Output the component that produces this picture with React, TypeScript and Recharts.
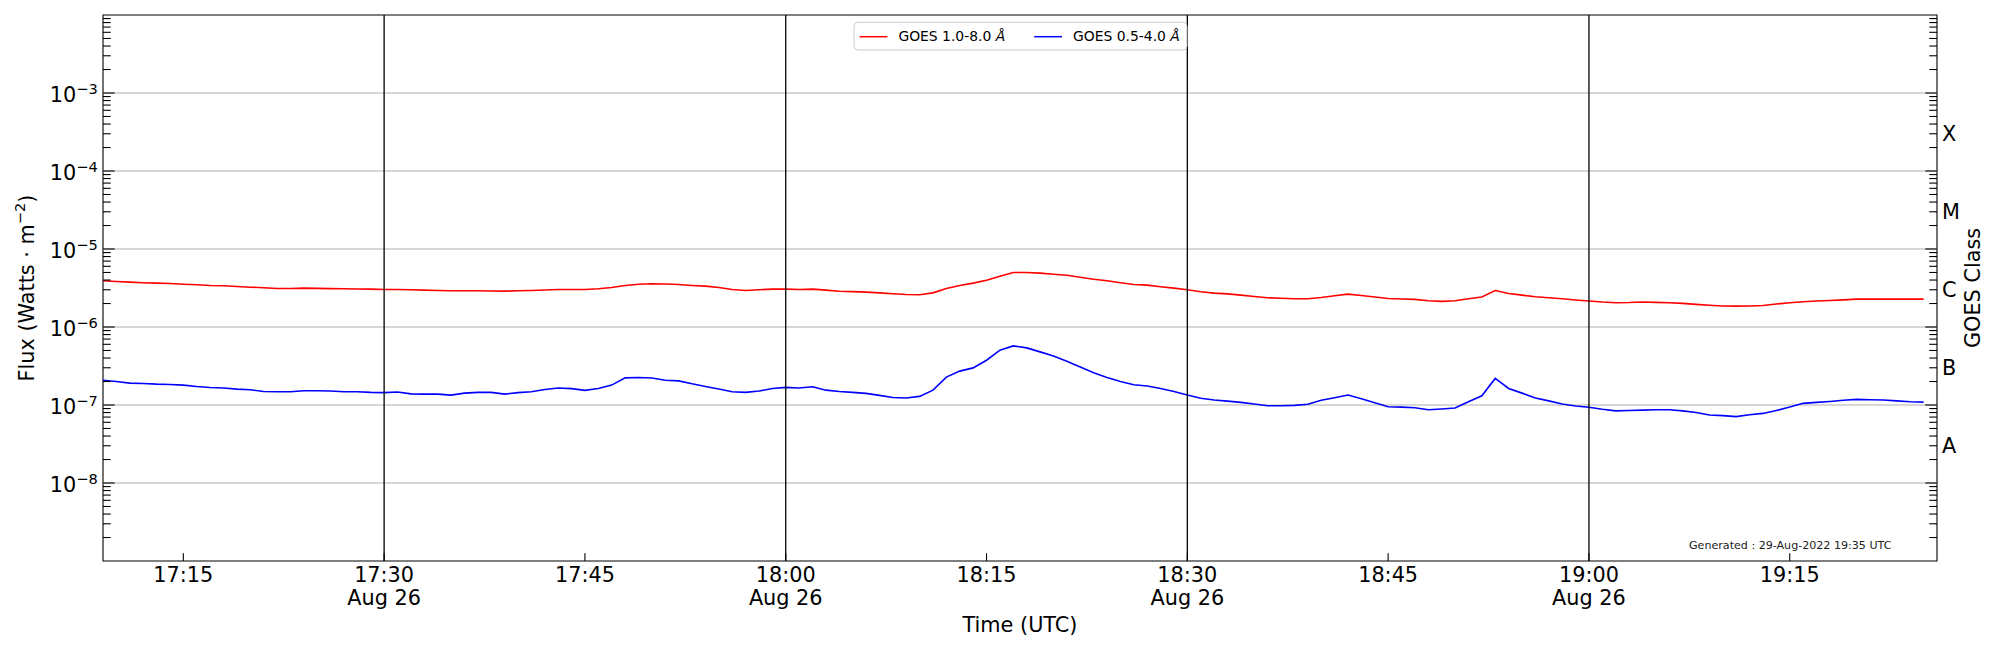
import React from "react";
import {
  LineChart,
  Line,
  XAxis,
  YAxis,
  ReferenceLine,
  ReferenceArea,
  Legend,
} from "recharts";

// GOES XRS one-minute fluxes, Aug 26 2022, starting 17:09 UTC
const startTime = "17:09";
const endTime = "19:26";

const xrsLong = [
  3.91e-6, 3.83e-6, 3.76e-6, 3.69e-6, 3.65e-6, 3.61e-6, 3.54e-6, 3.48e-6, 3.41e-6, 3.38e-6,
  3.31e-6, 3.24e-6, 3.19e-6, 3.12e-6, 3.12e-6, 3.15e-6, 3.13e-6, 3.1e-6, 3.09e-6, 3.07e-6,
  3.06e-6, 3.03e-6, 3.03e-6, 3.0e-6, 2.97e-6, 2.94e-6, 2.91e-6, 2.91e-6, 2.92e-6, 2.9e-6,
  2.88e-6, 2.91e-6, 2.94e-6, 2.98e-6, 3.03e-6, 3.03e-6, 3.03e-6, 3.09e-6, 3.21e-6, 3.41e-6,
  3.54e-6, 3.58e-6, 3.56e-6, 3.51e-6, 3.41e-6, 3.34e-6, 3.21e-6, 3.03e-6, 2.94e-6, 3.0e-6,
  3.06e-6, 3.06e-6, 3.03e-6, 3.06e-6, 2.97e-6, 2.87e-6, 2.84e-6, 2.8e-6, 2.74e-6, 2.67e-6,
  2.61e-6, 2.59e-6, 2.74e-6, 3.12e-6, 3.41e-6, 3.65e-6, 3.98e-6, 4.48e-6, 4.99e-6, 4.99e-6,
  4.9e-6, 4.75e-6, 4.61e-6, 4.35e-6, 4.1e-6, 3.91e-6, 3.69e-6, 3.51e-6, 3.44e-6, 3.28e-6,
  3.15e-6, 3.0e-6, 2.83e-6, 2.72e-6, 2.66e-6, 2.56e-6, 2.46e-6, 2.37e-6, 2.34e-6, 2.3e-6,
  2.3e-6, 2.39e-6, 2.51e-6, 2.64e-6, 2.54e-6, 2.42e-6, 2.32e-6, 2.29e-6, 2.26e-6, 2.17e-6,
  2.13e-6, 2.17e-6, 2.3e-6, 2.42e-6, 2.94e-6, 2.69e-6, 2.56e-6, 2.44e-6, 2.37e-6, 2.3e-6,
  2.22e-6, 2.15e-6, 2.09e-6, 2.05e-6, 2.06e-6, 2.09e-6, 2.07e-6, 2.05e-6, 2.01e-6, 1.95e-6,
  1.9e-6, 1.86e-6, 1.85e-6, 1.86e-6, 1.89e-6, 1.97e-6, 2.05e-6, 2.11e-6, 2.15e-6, 2.19e-6,
  2.23e-6, 2.28e-6, 2.28e-6, 2.28e-6, 2.28e-6, 2.28e-6, 2.28e-6,
];

const xrsShort = [
  2.08e-7, 2.0e-7, 1.91e-7, 1.89e-7, 1.85e-7, 1.83e-7, 1.8e-7, 1.73e-7, 1.68e-7, 1.65e-7,
  1.6e-7, 1.57e-7, 1.49e-7, 1.48e-7, 1.48e-7, 1.52e-7, 1.52e-7, 1.51e-7, 1.48e-7, 1.48e-7,
  1.45e-7, 1.44e-7, 1.47e-7, 1.39e-7, 1.38e-7, 1.38e-7, 1.34e-7, 1.42e-7, 1.45e-7, 1.45e-7,
  1.38e-7, 1.44e-7, 1.48e-7, 1.58e-7, 1.65e-7, 1.62e-7, 1.54e-7, 1.63e-7, 1.8e-7, 2.23e-7,
  2.25e-7, 2.22e-7, 2.08e-7, 2.04e-7, 1.87e-7, 1.73e-7, 1.6e-7, 1.48e-7, 1.45e-7, 1.51e-7,
  1.63e-7, 1.68e-7, 1.65e-7, 1.71e-7, 1.55e-7, 1.49e-7, 1.45e-7, 1.41e-7, 1.33e-7, 1.25e-7,
  1.23e-7, 1.29e-7, 1.55e-7, 2.28e-7, 2.72e-7, 2.99e-7, 3.75e-7, 5.04e-7, 5.72e-7, 5.4e-7,
  4.8e-7, 4.26e-7, 3.64e-7, 3.08e-7, 2.59e-7, 2.25e-7, 2.0e-7, 1.82e-7, 1.75e-7, 1.63e-7,
  1.49e-7, 1.34e-7, 1.22e-7, 1.16e-7, 1.12e-7, 1.08e-7, 1.03e-7, 9.8e-8, 9.8e-8, 9.9e-8,
  1.02e-7, 1.15e-7, 1.24e-7, 1.34e-7, 1.2e-7, 1.07e-7, 9.5e-8, 9.4e-8, 9.2e-8, 8.7e-8,
  8.9e-8, 9.15e-8, 1.1e-7, 1.31e-7, 2.19e-7, 1.63e-7, 1.42e-7, 1.23e-7, 1.13e-7, 1.03e-7,
  9.7e-8, 9.35e-8, 8.8e-8, 8.4e-8, 8.5e-8, 8.6e-8, 8.7e-8, 8.7e-8, 8.4e-8, 8.0e-8,
  7.45e-8, 7.3e-8, 7.1e-8, 7.5e-8, 7.8e-8, 8.5e-8, 9.4e-8, 1.05e-7, 1.08e-7, 1.11e-7,
  1.15e-7, 1.18e-7, 1.17e-7, 1.16e-7, 1.13e-7, 1.1e-7, 1.09e-7,
];

const seriesNames = ["GOES 1.0-8.0 Å", "GOES 0.5-4.0 Å"];
const seriesColors = ["#ff0000", "#0000ff"];

const timeTickLabels = ["17:15", "17:30", "17:45", "18:00", "18:15", "18:30", "18:45", "19:00", "19:15"];
const markerTimes = ["17:30", "18:00", "18:30", "19:00"];
const dateLabel = "Aug 26";

const decadeTicks = [1e-8, 1e-7, 1e-6, 1e-5, 1e-4, 1e-3];
const decadeExponents = [-9, -8, -7, -6, -5, -4, -3];
const minorMultipliers = [2, 3, 4, 5, 6, 7, 8, 9];
const classTicks = [3e-8, 3e-7, 3e-6, 3e-5, 3e-4];
const classLabels = ["A", "B", "C", "M", "X"];

const generatedNote = "Generated : 29-Aug-2022 19:35 UTC";

const toMinutes = (s: string) => {
  const [h, m] = s.split(":").map(Number);
  return h * 60 + m;
};

const t0 = toMinutes(startTime);
const data = xrsLong.map((v, i) => ({ t: t0 + i, long: v, short: xrsShort[i] }));

const fluxTicks = [
  ...decadeTicks,
  ...decadeExponents.flatMap((e) => minorMultipliers.map((m) => m * Math.pow(10, e))),
].sort((a, b) => a - b);

const FONT = "DejaVu Sans";
const PLOT_LEFT = 103;
const PLOT_RIGHT = 1937;
const PLOT_TOP = 15;
const PLOT_BOTTOM = 561;

const FluxTick = (props: any) => {
  const { y, payload } = props;
  const v = payload.value;
  const e = Math.floor(Math.log10(v) + 1e-9);
  const major = Math.abs(v / Math.pow(10, e) - 1) < 1e-6;
  const len = major ? 11.7 : 7.7;
  return (
    <g>
      <line x1={PLOT_LEFT} x2={PLOT_LEFT + len} y1={y} y2={y} stroke="#000" strokeWidth={1.1} />
      <line x1={PLOT_RIGHT} x2={PLOT_RIGHT - len} y1={y} y2={y} stroke="#000" strokeWidth={1.1} />
      {major && (
        <text x={PLOT_LEFT - 5.3} y={y + 9.4} textAnchor="end" fontSize={20.8} fontFamily={FONT} fill="#000">
          10
          <tspan dy={-8.7} fontSize={14.6}>{`\u2212${-e}`}</tspan>
        </text>
      )}
    </g>
  );
};

const ClassTick = (props: any) => {
  const { y, payload } = props;
  const idx = classTicks.findIndex((c) => Math.abs(c / payload.value - 1) < 1e-6);
  if (idx < 0) return null;
  return (
    <text x={PLOT_RIGHT + 5} y={y + 7.6} fontSize={20.8} fontFamily={FONT} fill="#000">
      {classLabels[idx]}
    </text>
  );
};

const TimeTick = (props: any) => {
  const { x, payload } = props;
  const t = payload.value;
  const mm = t % 60;
  const label = `${Math.floor(t / 60)}:${String(mm).padStart(2, "0")}`;
  return (
    <g>
      <line x1={x} x2={x} y1={PLOT_BOTTOM} y2={PLOT_BOTTOM - 7.7} stroke="#000" strokeWidth={1.1} />
      <text x={x} y={PLOT_BOTTOM + 21} textAnchor="middle" fontSize={20.8} fontFamily={FONT} fill="#000">
        {label}
      </text>
      {mm % 30 === 0 && (
        <text x={x} y={PLOT_BOTTOM + 43.5} textAnchor="middle" fontSize={20.8} fontFamily={FONT} fill="#000">
          {dateLabel}
        </text>
      )}
    </g>
  );
};

const FluxLabel = () => (
  <text
    x={34}
    y={288}
    transform="rotate(-90, 34, 288)"
    textAnchor="middle"
    fontSize={20.8}
    fontFamily={FONT}
    fill="#000"
  >
    Flux (Watts · m
    <tspan dy={-8.7} fontSize={14.6}>{"\u22122"}</tspan>
    <tspan dy={8.7}>)</tspan>
  </text>
);

const ClassLabel = () => (
  <text
    x={1980}
    y={288}
    transform="rotate(-90, 1980, 288)"
    textAnchor="middle"
    fontSize={20.8}
    fontFamily={FONT}
    fill="#000"
  >
    GOES Class
  </text>
);

const TimeLabel = () => (
  <g>
    <text x={1020} y={632} textAnchor="middle" fontSize={20.8} fontFamily={FONT} fill="#000">
      Time (UTC)
    </text>
    <text x={1689} y={548.5} fontSize={11.1} fontFamily={FONT} fill="#222">
      {generatedNote}
    </text>
  </g>
);

const LegendBox = (props: any) => {
  const items = [...(props.payload || [])].sort(
    (a: any, b: any) => seriesNames.indexOf(String(a.value)) - seriesNames.indexOf(String(b.value))
  );
  const handleX = [6.6, 181.2];
  return (
    <svg width={336} height={31} style={{ display: "block" }}>
      <rect x={1} y={1.3} width={333} height={27.7} rx={4} fill="#fff" fillOpacity={0.8} stroke="#cccccc" strokeWidth={1} />
      {items.map((p: any, i: number) => {
        const name = String(p.value);
        return (
          <g key={name}>
            <line x1={handleX[i]} x2={handleX[i] + 27.8} y1={15.7} y2={15.7} stroke={p.color} strokeWidth={1.5} />
            <text x={handleX[i] + 38.8} y={20} fontSize={13.9} fontFamily={FONT} fill="#000">
              {name.slice(0, -1)}
              <tspan fontStyle="italic">{name.slice(-1)}</tspan>
            </text>
          </g>
        );
      })}
    </svg>
  );
};

export default function App() {
  return (
    <div>
      <style>{`body { margin: 0; }`}</style>
      <LineChart width={2000} height={650} data={data} margin={{ top: PLOT_TOP, right: 0, bottom: 0, left: 0 }}>
        <XAxis
          dataKey="t"
          type="number"
          domain={[t0, toMinutes(endTime)]}
          allowDataOverflow
          ticks={timeTickLabels.map(toMinutes)}
          interval={0}
          tick={<TimeTick />}
          tickLine={false}
          axisLine={false}
          tickSize={0}
          tickMargin={0}
          height={650 - PLOT_BOTTOM}
          label={<TimeLabel />}
        />
        <YAxis
          yAxisId="flux"
          scale="log"
          type="number"
          domain={[1e-9, 1e-2]}
          allowDataOverflow
          ticks={fluxTicks}
          interval={0}
          tick={<FluxTick />}
          tickLine={false}
          axisLine={false}
          tickSize={0}
          tickMargin={0}
          width={PLOT_LEFT}
          label={<FluxLabel />}
        />
        <YAxis
          yAxisId="class"
          orientation="right"
          scale="log"
          type="number"
          domain={[1e-9, 1e-2]}
          allowDataOverflow
          ticks={classTicks}
          interval={0}
          tick={<ClassTick />}
          tickLine={false}
          axisLine={false}
          tickSize={0}
          tickMargin={0}
          width={2000 - PLOT_RIGHT}
          label={<ClassLabel />}
        />
        {decadeTicks.map((v) => (
          <ReferenceLine key={v} yAxisId="flux" y={v} stroke="#b0b0b0" strokeWidth={1.1} />
        ))}
        <Line
          yAxisId="flux"
          type="linear"
          dataKey="long"
          name={seriesNames[0]}
          stroke={seriesColors[0]}
          strokeWidth={1.6}
          dot={false}
          isAnimationActive={false}
        />
        <Line
          yAxisId="flux"
          type="linear"
          dataKey="short"
          name={seriesNames[1]}
          stroke={seriesColors[1]}
          strokeWidth={1.6}
          dot={false}
          isAnimationActive={false}
        />
        {markerTimes.map((s) => (
          <ReferenceLine key={s} yAxisId="flux" x={toMinutes(s)} stroke="#000" strokeWidth={1.3} />
        ))}
        <ReferenceArea
          yAxisId="flux"
          x1={t0}
          x2={toMinutes(endTime)}
          y1={1e-9}
          y2={1e-2}
          fill="none"
          stroke="#000"
          strokeWidth={1.1}
        />
        <Legend
          verticalAlign="middle"
          align="center"
          content={<LegendBox />}
          wrapperStyle={{ left: 853, top: 21, width: 336, height: 31 }}
        />
      </LineChart>
    </div>
  );
}
